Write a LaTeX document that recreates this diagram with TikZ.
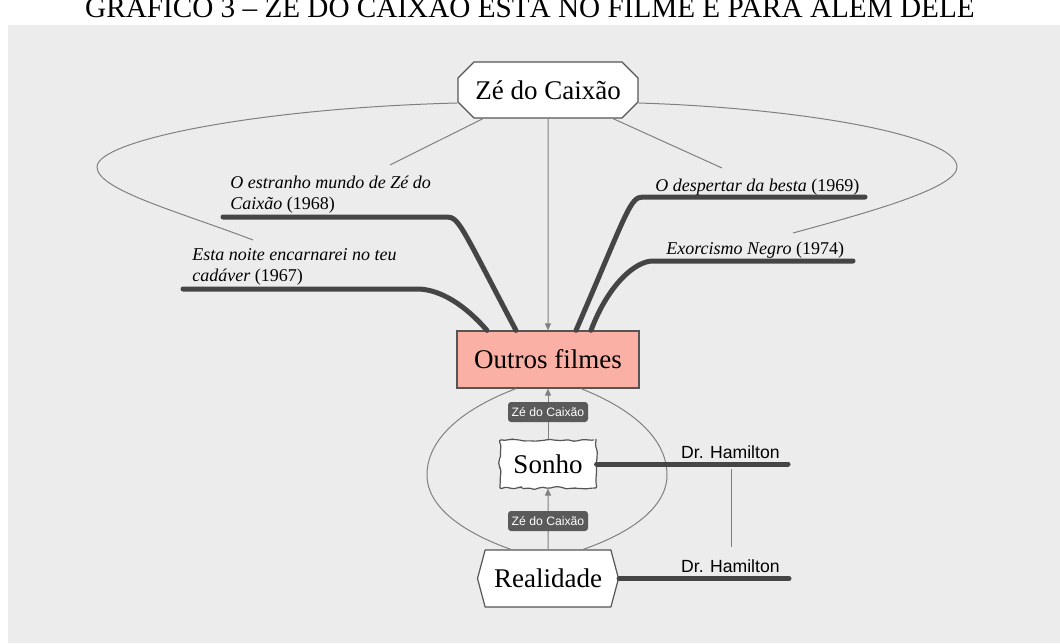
\documentclass[tikz,border=0pt]{standalone}
\usepackage{fontspec}
\setmainfont{Liberation Serif}
\setsansfont{Liberation Sans}
\usetikzlibrary{shapes.misc,shapes.symbols,arrows.meta,decorations.pathmorphing}
\definecolor{bgcol}{HTML}{ECECEC}
\definecolor{edgecol}{HTML}{555555}
\definecolor{relcol}{HTML}{808080}
\definecolor{branchcol}{HTML}{454545}
\definecolor{tagcol}{HTML}{5A5A5A}
\definecolor{salmon}{HTML}{FAB0A4}
\pgfmathsetseed{7}

\begin{document}
\begin{tikzpicture}[x=0.5pt, y=-0.5pt,
  box/.style={draw=edgecol, line width=0.6pt, fill=white, inner sep=0pt, font=\fontsize{13.5}{16}\selectfont},
  relline/.style={draw=relcol, line width=0.5pt},
  arr/.style={relline, -{Triangle[length=3.5pt,width=3pt]}},
  branch/.style={draw=branchcol, line width=2.5pt, line cap=round},
  tag/.style={fill=tagcol, rounded corners=1.5pt, text=white, inner sep=0pt, minimum width=40pt, minimum height=10pt, font=\sffamily\fontsize{6.1}{7}\selectfont},
  film/.style={inner sep=0pt, align=left, font=\fontsize{9}{10.5}\selectfont},
  who/.style={inner sep=0pt, font=\sffamily\fontsize{8.8}{10}\selectfont}]
  \useasboundingbox (0,0) rectangle (1060,643);
  \fill[bgcol] (8,25) rectangle (1060,643);
  \node[anchor=base, font=\fontsize{14.6}{17}\selectfont] (title) at (530,17) {GRÁFICO 3 – ZÉ DO CAIXÃO ESTÁ NO FILME E PARA ALÉM DELE};

  \node[box, chamfered rectangle, chamfered rectangle xsep=4pt, chamfered rectangle ysep=4pt, minimum width=90pt, minimum height=28pt] (zc) at (548,90) {Zé do Caixão};
  \node[box, fill=salmon, minimum width=91pt, minimum height=28.5pt] (outros) at (548,359.5) {Outros filmes};
  \node[box, decorate, decoration={random steps, segment length=2.2pt, amplitude=0.7pt}, rounded corners=1pt, minimum width=48pt, minimum height=24pt] (sonho) at (548,464) {Sonho};
  \node[box, signal, signal to=east and west, signal pointer angle=150, minimum width=70.5pt, minimum height=28.5pt] (real) at (548,578.5) {Realidade};

  \coordinate (f1a) at (183,289);
  \coordinate (f1b) at (417,289);
  \coordinate (f1r) at (253,240);
  \coordinate (f2a) at (223,217);
  \coordinate (f2b) at (447,217);
  \coordinate (f2r) at (390,165);
  \coordinate (f3a) at (865,197);
  \coordinate (f3b) at (643,197);
  \coordinate (f3r) at (722,168);
  \coordinate (f4a) at (853,261);
  \coordinate (f4b) at (653,261);
  \coordinate (f4r) at (793,233);
  \coordinate (h1) at (788,464);
  \coordinate (h2) at (789,578.5);
  \coordinate (v1) at (731,469);
  \coordinate (v2) at (731,547);

  \node[film, anchor=south west] (f1) at (192,286) {\textit{Esta noite encarnarei no teu}\\\textit{cadáver} (1967)};
  \node[film, anchor=south west] (f2) at (230,214) {\textit{O estranho mundo de Zé do}\\\textit{Caixão} (1968)};
  \node[film, anchor=base west] (f3) at (655,191) {\textit{O despertar da besta} (1969)};
  \node[film, anchor=base west] (f4) at (666,254) {\textit{Exorcismo Negro} (1974)};
  \node[who, anchor=base east] (dh1) at (780,458) {Dr. Hamilton};
  \node[who, anchor=base east] (dh2) at (780,572) {Dr. Hamilton};

  \draw[relline] ([yshift=-6.5pt]zc.west) .. controls (260,108) and (97,140) .. (97,167)
    .. controls (97,190) and (180,212) .. (f1r);
  \draw[relline] ([yshift=-6.5pt]zc.east) .. controls (800,108) and (957,135) .. (957,167)
    .. controls (957,188) and (870,212) .. (f4r);
  \draw[relline] ([xshift=-32.5pt]zc.south) -- (f2r);
  \draw[relline] ([xshift=32.5pt]zc.south) -- (f3r);
  \draw[arr] (zc) -- (zc |- outros.north);

  \draw[branch] (f1a) -- (f1b) .. controls (440,289) and (465,305) .. ([xshift=-30.5pt]outros.north);
  \draw[branch] (f2a) -- (f2b) .. controls (459,217) and (462,228) .. ([xshift=-16pt]outros.north);
  \draw[branch] (f3a) -- (f3b) .. controls (630,197) and (628,210) .. ([xshift=14pt]outros.north);
  \draw[branch] (f4a) -- (f4b) .. controls (635,261) and (608,285) .. ([xshift=21.5pt]outros.north);

  \draw[relline] ([xshift=-16pt]outros.south) .. controls (460,410) and (427,440) .. (427,475)
    .. controls (427,510) and (470,535) .. ([xshift=-18.5pt]real.north);
  \draw[relline] ([xshift=16.5pt]outros.south) .. controls (635,410) and (667,440) .. (667,475)
    .. controls (667,510) and (625,535) .. ([xshift=17.5pt]real.north);
  \draw[arr] (sonho) -- (sonho |- outros.south);
  \draw[arr] (real) -- (real |- sonho.south);
  \node[tag] (tag1) at (548,412) {Zé do Caixão};
  \node[tag] (tag2) at (548,521) {Zé do Caixão};

  \draw[branch] (sonho.east) -- (h1);
  \draw[branch] (real.east) -- (h2);
  \draw[relline] (v1) -- (v2);
\end{tikzpicture}
\end{document}
